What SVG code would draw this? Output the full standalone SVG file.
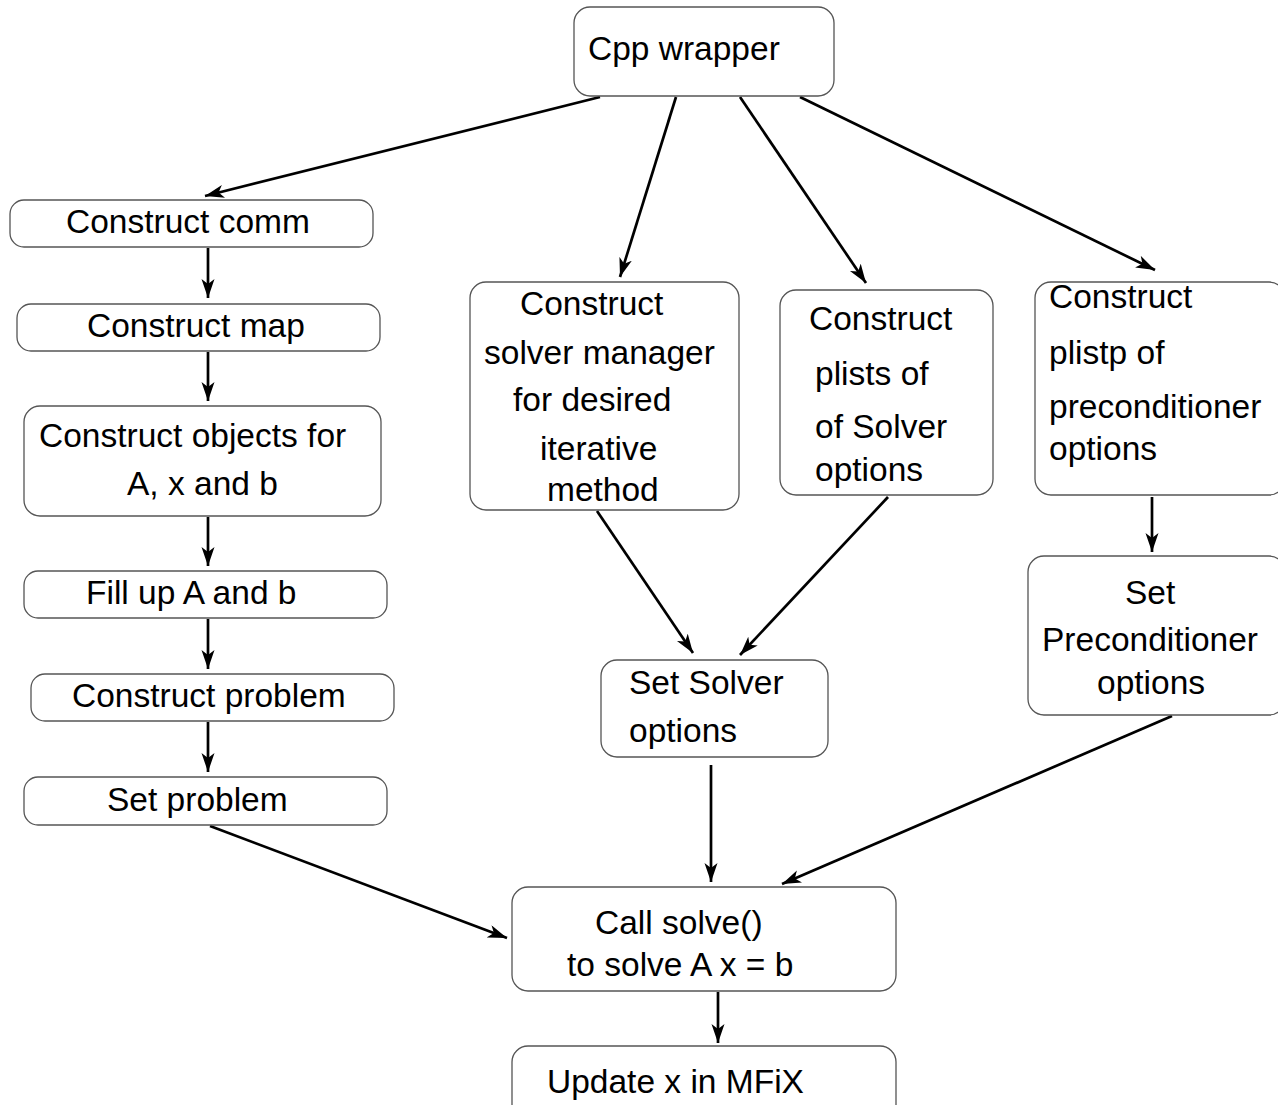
<svg xmlns="http://www.w3.org/2000/svg" width="1278" height="1105" viewBox="0 0 1278 1105">
<defs>
<marker id="ah" markerUnits="userSpaceOnUse" markerWidth="22" markerHeight="14" refX="19" refY="6.5" orient="auto">
<path d="M0,0 L19,6.5 L0,13 L5,6.5 z" fill="#000"/>
</marker>
<style>
.box{fill:#fff;stroke:#555;stroke-width:1.3}
.t{font-family:"Liberation Sans",Arial,sans-serif;font-size:33.5px;fill:#000}
.c{stroke:#000;stroke-width:2.7;fill:none;marker-end:url(#ah)}
</style>
</defs>
<rect width="1278" height="1105" fill="#fff"/>
<g id="connectors">
<line class="c" x1="600" y1="97" x2="205" y2="196"/>
<line class="c" x1="676" y1="97" x2="620" y2="277"/>
<line class="c" x1="740" y1="97" x2="866" y2="283"/>
<line class="c" x1="800" y1="97" x2="1155" y2="270"/>
<line class="c" x1="208" y1="248" x2="208" y2="298"/>
<line class="c" x1="208" y1="352" x2="208" y2="401"/>
<line class="c" x1="208" y1="517" x2="208" y2="566"/>
<line class="c" x1="208" y1="619" x2="208" y2="669"/>
<line class="c" x1="208" y1="722" x2="208" y2="772"/>
<line class="c" x1="210" y1="826" x2="507" y2="938"/>
<line class="c" x1="597" y1="511" x2="693" y2="653"/>
<line class="c" x1="888" y1="497" x2="740" y2="655"/>
<line class="c" x1="1152" y1="497" x2="1152" y2="552"/>
<line class="c" x1="711" y1="765" x2="711" y2="882"/>
<line class="c" x1="1172" y1="716" x2="782" y2="884"/>
<line class="c" x1="718" y1="992" x2="718" y2="1043"/>
</g>
<g id="cpp"><rect class="box" x="574" y="7" width="260" height="89" rx="16"/><text class="t" x="588" y="60">Cpp wrapper</text></g>
<g id="comm"><rect class="box" x="10" y="200" width="363" height="47" rx="14"/><text class="t" x="66" y="233">Construct comm</text></g>
<g id="map"><rect class="box" x="17" y="304" width="363" height="47" rx="14"/><text class="t" x="87" y="337">Construct map</text></g>
<g id="objects"><rect class="box" x="24" y="406" width="357" height="110" rx="16"/><text class="t" x="39" y="447">Construct objects for</text><text class="t" x="127" y="495">A, x and b</text></g>
<g id="fill"><rect class="box" x="24" y="571" width="363" height="47" rx="14"/><text class="t" x="86" y="604">Fill up A and b</text></g>
<g id="problem"><rect class="box" x="31" y="674" width="363" height="47" rx="14"/><text class="t" x="72" y="707">Construct problem</text></g>
<g id="setproblem"><rect class="box" x="24" y="777" width="363" height="48" rx="14"/><text class="t" x="107" y="811">Set problem</text></g>
<g id="solvermgr"><rect class="box" x="470" y="282" width="269" height="228" rx="16"/><text class="t" x="520" y="315">Construct</text><text class="t" x="484" y="364">solver manager</text><text class="t" x="513" y="411">for desired</text><text class="t" x="540" y="460">iterative</text><text class="t" x="547" y="501">method</text></g>
<g id="plists"><rect class="box" x="780" y="290" width="213" height="205" rx="16"/><text class="t" x="809" y="330">Construct</text><text class="t" x="815" y="385">plists of</text><text class="t" x="815" y="438">of Solver</text><text class="t" x="815" y="481">options</text></g>
<g id="plistp"><rect class="box" x="1035" y="282" width="250" height="213" rx="16"/><text class="t" x="1049" y="308">Construct</text><text class="t" x="1049" y="364">plistp of</text><text class="t" x="1049" y="418">preconditioner</text><text class="t" x="1049" y="460">options</text></g>
<g id="setprec"><rect class="box" x="1028" y="556" width="257" height="159" rx="16"/><text class="t" x="1125" y="604">Set</text><text class="t" x="1042" y="651">Preconditioner</text><text class="t" x="1097" y="694">options</text></g>
<g id="setsolver"><rect class="box" x="601" y="660" width="227" height="97" rx="16"/><text class="t" x="629" y="694">Set Solver</text><text class="t" x="629" y="742">options</text></g>
<g id="solve"><rect class="box" x="512" y="887" width="384" height="104" rx="16"/><text class="t" x="595" y="934">Call solve()</text><text class="t" x="567" y="976">to solve A x = b</text></g>
<g id="update"><rect class="box" x="512" y="1046" width="384" height="80" rx="16"/><text class="t" x="547" y="1093">Update x in MFiX</text></g>
</svg>
